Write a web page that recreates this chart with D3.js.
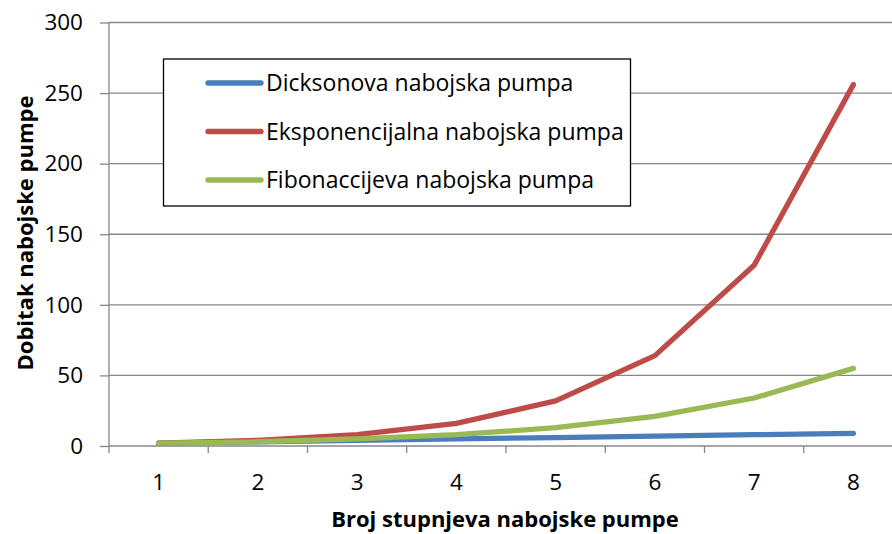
<!DOCTYPE html>
<html><head><meta charset="utf-8">
<script src="https://cdn.jsdelivr.net/npm/d3@7"></script>
<style>body{margin:0;background:#fff}svg{display:block}</style>
</head><body>
<script>
const categories = [1,2,3,4,5,6,7,8];
const dickson = [2,3,4,5,6,7,8,9];
const exponential = [2,4,8,16,32,64,128,256];
const fibonacci = [2,3,5,8,13,21,34,55];
const seriesNames = ["Dicksonova nabojska pumpa","Eksponencijalna nabojska pumpa","Fibonaccijeva nabojska pumpa"];
const seriesColors = ["#4A7EBB","#BE4B48","#98B954"];
const yTicks = [0,50,100,150,200,250,300];
const xTitle = "Broj stupnjeva nabojske pumpe";
const yTitle = "Dobitak nabojske pumpe";

const W=892,H=534;
const svg=d3.select("body").append("svg").attr("width",W).attr("height",H);
const pL=109,pR=903,pT=22.5,pB=446;
const font="Open Sans, sans-serif";

const x=d3.scaleBand().domain(categories).range([pL,pR]);
const y=d3.scaleLinear().domain([0,300]).range([pB,pT]);

// gridlines
svg.append("g").selectAll("line").data(yTicks.filter(d=>d>0)).join("line")
  .attr("x1",pL).attr("x2",pR).attr("y1",d=>y(d)).attr("y2",d=>y(d))
  .attr("stroke","#878787").attr("stroke-width",1.3);

// y axis
const ya=svg.append("g").attr("transform",`translate(${pL},0)`)
  .call(d3.axisLeft(y).tickValues(yTicks).tickSize(9).tickPadding(17));
ya.select(".domain").attr("stroke","#878787").attr("stroke-width",1.3).attr("d",`M0,${pT}V${pB}`);
ya.selectAll(".tick line").attr("stroke","#878787").attr("stroke-width",1.3);
ya.selectAll(".tick text").attr("font-family",font).attr("font-size",22.5).attr("fill","#000");

// x axis
const xa=svg.append("g").attr("transform",`translate(0,${pB})`)
  .call(d3.axisBottom(x).tickSize(0).tickPadding(28));
xa.select(".domain").attr("stroke","#878787").attr("stroke-width",1.3).attr("d",`M${pL},0H${pR}`);
xa.selectAll(".tick text").attr("font-family",font).attr("font-size",22.5).attr("fill","#000");
svg.append("g").selectAll("line").data(d3.range(categories.length+1)).join("line")
  .attr("x1",i=>pL+i*x.step()).attr("x2",i=>pL+i*x.step())
  .attr("y1",pB).attr("y2",pB+7).attr("stroke","#878787").attr("stroke-width",1.3);

// lines
const data=[dickson,exponential,fibonacci];
const line=d3.line().x((d,i)=>x(categories[i])+x.bandwidth()/2).y(d=>y(d));
svg.append("g").selectAll("path").data([0,1,2]).join("path")
  .attr("d",i=>line(data[i])).attr("fill","none").attr("stroke",i=>seriesColors[i])
  .attr("stroke-width",5.3).attr("stroke-linecap","round").attr("stroke-linejoin","round");

// legend
const lg=svg.append("g");
lg.append("rect").attr("x",163.5).attr("y",59).attr("width",467).attr("height",147)
  .attr("fill","#fff").attr("stroke","#000").attr("stroke-width",1.3);
seriesNames.forEach((n,i)=>{
  const yy=83+i*48.5;
  lg.append("line").attr("x1",208).attr("x2",261).attr("y1",yy).attr("y2",yy)
    .attr("stroke",seriesColors[i]).attr("stroke-width",5.3).attr("stroke-linecap","round");
  lg.append("text").attr("x",266).attr("y",yy+8.2).attr("font-family",font).attr("font-size",23)
    .attr("fill","#000").text(n);
});

// titles
svg.append("text").attr("x",505).attr("y",527).attr("text-anchor","middle")
  .attr("font-family",font).attr("font-weight","bold").attr("font-size",22).text(xTitle);
svg.append("text").attr("transform",`translate(33,233) rotate(-90)`).attr("text-anchor","middle")
  .attr("font-family",font).attr("font-weight","bold").attr("font-size",22).text(yTitle);
</script>
</body></html>
